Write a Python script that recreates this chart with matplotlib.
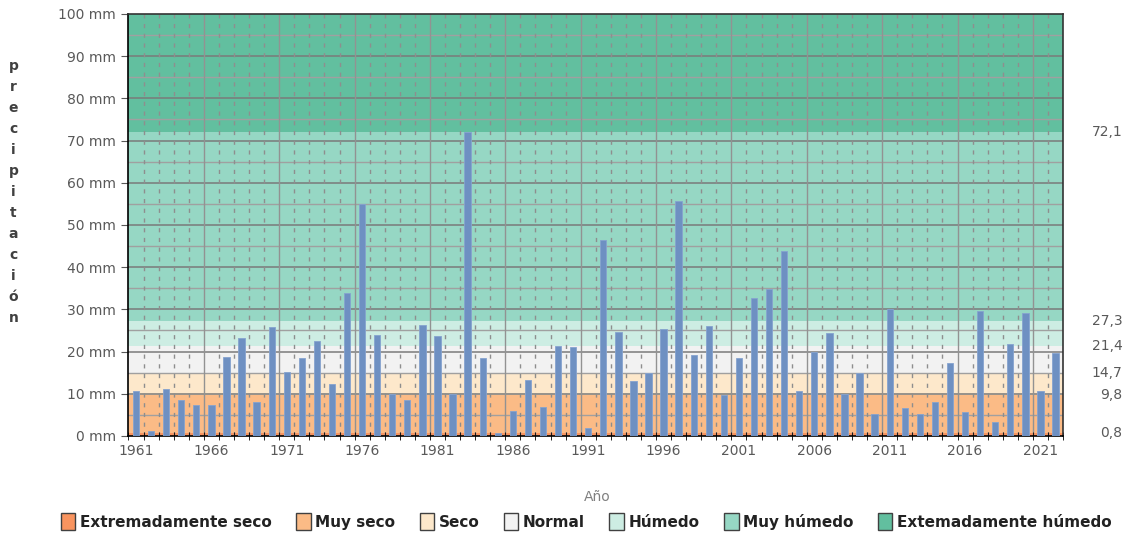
import numpy as np
import matplotlib
matplotlib.use('Agg')
import matplotlib.pyplot as plt
from matplotlib.patches import Patch
from matplotlib.transforms import blended_transform_factory

# datos
years = list(range(1961, 2023))
prec = [10.7, 1.2, 11.1, 8.5, 7.4, 7.4, 18.8, 23.2, 8.1, 25.8,
        15.1, 18.5, 22.5, 12.2, 34.0, 54.9, 24.0, 9.9, 8.5, 26.2,
        23.6, 9.9, 72.1, 18.4, 0.8, 5.9, 13.3, 6.8, 21.4, 21.2,
        1.9, 46.4, 24.7, 13.0, 14.9, 25.4, 55.6, 19.1, 26.1, 9.7,
        18.4, 32.8, 34.8, 43.8, 10.7, 20.0, 24.3, 9.9, 14.9, 5.1,
        30.1, 6.7, 5.1, 8.1, 17.4, 5.6, 29.5, 3.4, 21.8, 29.1,
        10.7, 19.6]

limits = [0, 0.8, 9.8, 14.7, 21.4, 27.3, 72.1, 100]
limit_labels = ['0,8', '9,8', '14,7', '21,4', '27,3', '72,1']
band_names = ['Extremadamente seco', 'Muy seco', 'Seco', 'Normal',
              'Húmedo', 'Muy húmedo', 'Extemadamente húmedo']
band_colors = ['#F9945F', '#FBBB86', '#FDE8CB', '#F2F2F2',
               '#CDEDE3', '#96D7C4', '#62BF9F']

grey = '#595959'

fig = plt.figure(figsize=(11.23, 5.36), dpi=100)
ax = fig.add_axes([0.1144, 0.1866, 0.8322, 0.7873])

x = np.arange(len(years))

# bandas de clasificacion
for i in range(len(band_colors)):
    ax.axhspan(limits[i], limits[i + 1], color=band_colors[i], lw=0, zorder=0)

# rejilla
for yv in range(5, 100, 5):
    if yv % 10 == 0:
        ax.axhline(yv, color='#7A7A7A', lw=1.1, zorder=1)
    else:
        ax.axhline(yv, color='#A0A0A0', lw=1.0, zorder=1)
for k in range(len(years) - 1):
    xv = k + 0.5
    if (k + 1) % 5 == 0:
        ax.axvline(xv, color='#929292', lw=1.0, zorder=1)
    else:
        ax.axvline(xv, color='#8E8E8E', lw=1.0, ls=(0, (3, 4)), zorder=1)

ax.bar(x, prec, width=0.42, color='#6E90C2', edgecolor='#86A3CF', lw=0.6, zorder=3)

ax.set_xlim(-0.5, len(years) - 0.5)
ax.set_ylim(0, 100)

ax.set_yticks(range(0, 101, 10))
ax.set_yticklabels([f'{v} mm' for v in range(0, 101, 10)])
ax.set_xticks(x[::5])
ax.set_xticklabels([str(y) for y in years[::5]])
ax.set_xticks(np.arange(len(years) + 1) - 0.5, minor=True)
ax.tick_params(axis='x', which='major', length=0, pad=6, labelsize=10, labelcolor=grey)
ax.tick_params(axis='x', which='minor', length=6, direction='inout', color='black')
ax.tick_params(axis='y', which='major', length=5, color=grey, labelsize=10, labelcolor=grey, pad=4)

for s in ax.spines.values():
    s.set_color('#333333')
    s.set_linewidth(1.2)
ax.spines['left'].set_color('black')
ax.spines['bottom'].set_color('black')

# valores umbral a la derecha
tr = blended_transform_factory(fig.transFigure, ax.transData)
for v, lab in zip(limits[1:-1], limit_labels):
    yy = v
    if lab == '14,7':
        yy = v + 0.3
    ax.text(0.9995, yy, lab, transform=tr, ha='right', va='center',
            fontsize=10, color=grey)

# etiqueta del eje Y con letras apiladas
fig.text(0.012, 0.642, '\n'.join('precipitación'), ha='center', va='center',
         fontsize=10, fontweight='bold', color='#404040', linespacing=1.64)

fig.text(0.532, 0.073, 'Año', ha='center', va='center', fontsize=10, color='#808080')

handles = [Patch(facecolor=c, edgecolor='#404040', lw=1.0) for c in band_colors]
leg = fig.legend(handles, band_names, loc='center', bbox_to_anchor=(0.522, 0.027),
                 ncol=7, frameon=False, handlelength=0.95, handleheight=1.25,
                 handletextpad=0.3, columnspacing=1.6,
                 prop={'weight': 'bold', 'size': 11})
for t in leg.get_texts():
    t.set_color('#222222')

fig.savefig('out.png', dpi=100)
